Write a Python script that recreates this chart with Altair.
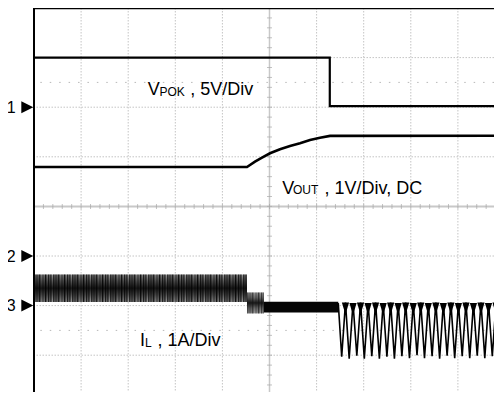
import altair as alt
import pandas as pd

# ---------------- data (oscilloscope screen, in divisions) ----------------
# V_POK (ch1, 5 V/div)
pok_t = [0.0, 6.28, 6.28, 9.94]
pok_v = [3.0, 3.0, 2.02, 2.02]

# V_OUT (ch2, 1 V/div)
vout_t = [0.0, 4.522, 4.692, 4.841, 5.011, 5.223, 5.435, 5.648, 5.860, 6.072, 6.285, 9.94]
vout_v = [0.794, 0.794, 0.901, 0.982, 1.071, 1.151, 1.218, 1.272, 1.339, 1.385, 1.421, 1.423]

# I_L (ch3, 1 A/div) - ripple envelopes
bandA_t = [0.0, 4.522]
bandA_hi = [-1.373, -1.373]
bandA_lo = [-1.927, -1.927]
bandB_t = [4.522, 4.88]
bandB_hi = [-1.734, -1.734]
bandB_lo = [-2.157, -2.157]
bandC_t = [4.88, 6.46]
bandC_hi = [-1.92, -1.92]
bandC_lo = [-2.14, -2.14]

# I_L after the change - triangular ripple (peak / trough vertices)
zz_t = [6.46, 6.533, 6.613, 6.692, 6.773, 6.854, 6.933, 7.013, 7.093, 7.172, 7.252,
        7.333, 7.413, 7.493, 7.572, 7.652, 7.731, 7.811, 7.891, 7.972, 8.052, 8.132,
        8.211, 8.291, 8.371, 8.452, 8.532, 8.612, 8.691, 8.771, 8.851, 8.932, 9.011,
        9.091, 9.171, 9.251, 9.330, 9.410, 9.490, 9.571, 9.650, 9.730, 9.810, 9.890, 9.970]
zz_v = [-1.95, -3.03, -1.94, -3.07, -1.95, -3.01, -1.94, -3.07, -1.95, -3.02, -1.94,
        -3.07, -1.95, -3.03, -1.94, -3.07, -1.95, -3.02, -1.94, -3.06, -1.95, -3.00,
        -1.94, -3.06, -1.95, -3.02, -1.94, -3.07, -1.95, -3.01, -1.94, -3.06, -1.95,
        -3.02, -1.94, -3.06, -1.95, -3.01, -1.94, -3.06, -1.95, -3.02, -1.94, -3.06, -1.95]

# screen grid
grid_x = [1, 2, 3, 4, 6, 7, 8, 9]
grid_y = [-3, -2, -1, 1, 2, 3]
center_x = [5]
center_y = [0]
half_rows = [2.5, -2.5]
minor_x = [round(0.2 * i, 1) for i in range(50)]
minor_y = [round(-3.6 + 0.2 * i, 1) for i in range(39)]

# channel markers
mk_text = ["1", "2", "3"]
mk_level = [2.0, -1.0, -2.0]

# trace labels
lbl_text = ["V", "POK", ", 5V/Div", "V", "OUT", ", 1V/Div, DC", "I", "L", ", 1A/Div"]
lbl_x = [2.414, 2.662, 3.316, 5.272, 5.499, 6.167, 2.25, 2.357, 2.622]
lbl_y = [2.246, 2.226, 2.246, 0.260, 0.240, 0.260, -2.815, -2.835, -2.815]
lbl_size = [18, 12, 18, 18, 12, 18, 18, 12, 18]

# ---------------- chart ----------------
W, H = 460, 384
PX_X, PX_Y = 47.1, 49.6
XS = alt.Scale(domain=[0, W / PX_X], nice=False, zero=False)
YS = alt.Scale(domain=[4.0 - H / PX_Y, 4.0], nice=False, zero=False)
FONT = "Liberation Sans"
STRIPES = [0.8, 0.7, 1.1, 0.5, 0.6, 0.9, 1.3, 0.6, 0.7, 0.8, 0.5, 1.0]


def X(f="t"):
    return alt.X(f"{f}:Q", scale=XS, axis=None)


def Y(f="v"):
    return alt.Y(f"{f}:Q", scale=YS, axis=None)


gx = pd.DataFrame({"t": grid_x})
gy = pd.DataFrame({"v": grid_y})
grid = (
    alt.Chart(gx).mark_rule(color="#c4c4c4", strokeWidth=1, strokeDash=[1.5, 1.5]).encode(x=X())
    + alt.Chart(gy).mark_rule(color="#c4c4c4", strokeWidth=1, strokeDash=[1.5, 1.5]).encode(y=Y())
)
half = alt.Chart(pd.DataFrame({"v": half_rows})).mark_rule(
    color="#b8b8b8", strokeWidth=1, strokeDash=[1.5, 7.92]
).encode(y=Y())
cx = alt.Chart(pd.DataFrame({"t": center_x})).mark_rule(color="#c8c8c8", strokeWidth=1.5).encode(x=X())
cy = alt.Chart(pd.DataFrame({"v": center_y})).mark_rule(color="#c8c8c8", strokeWidth=2).encode(y=Y())
tx = alt.Chart(pd.DataFrame({"t": minor_x, "v": [0] * len(minor_x)})).mark_tick(
    orient="vertical", size=5, thickness=1, color="#a8a8a8"
).encode(x=X(), y=Y())
ty = alt.Chart(pd.DataFrame({"t": [5] * len(minor_y), "v": minor_y})).mark_tick(
    orient="horizontal", size=5, thickness=1, color="#a8a8a8"
).encode(x=X(), y=Y())

border_l = alt.Chart(pd.DataFrame({"t": [0]})).mark_rule(color="black", strokeWidth=2).encode(x=X())
border_t = alt.Chart(pd.DataFrame({"v": [4.0]})).mark_rule(color="black", strokeWidth=2.5).encode(y=Y())


def grad(edge, mid):
    return alt.Gradient(
        gradient="linear",
        stops=[
            alt.GradientStop(color=edge, offset=0),
            alt.GradientStop(color=mid, offset=0.25),
            alt.GradientStop(color="#1a1a1a", offset=0.5),
            alt.GradientStop(color=mid, offset=0.75),
            alt.GradientStop(color=edge, offset=1),
        ],
        x1=0, x2=0, y1=0, y2=1,
    )


def band(ts, his, los, fill, stripe_color, stripe_opacity):
    df = pd.DataFrame({"t": ts, "hi": his, "lo": los})
    area = alt.Chart(df).mark_area(color=fill, clip=True).encode(
        x=X(), y=Y("hi"), y2="lo:Q"
    )
    seg = pd.DataFrame({
        "t0": [ts[0]], "t1": [ts[-1]],
        "mid": [(his[0] + los[0]) / 2],
    })
    width_px = (his[0] - los[0]) * PX_Y
    stripes = alt.Chart(seg).mark_rule(
        color=stripe_color, strokeWidth=width_px, strokeDash=STRIPES,
        opacity=stripe_opacity, clip=True,
    ).encode(x=X("t0"), x2="t1:Q", y=Y("mid"))
    return area + stripes


bandA = band(bandA_t, bandA_hi, bandA_lo, grad("#9a9a9a", "#555555"), "#000000", 0.85)
bandB = band(bandB_t, bandB_hi, bandB_lo, grad("#b0b0b0", "#777777"), "#111111", 0.7)
bandC = alt.Chart(pd.DataFrame({"t": bandC_t, "hi": bandC_hi, "lo": bandC_lo})).mark_area(
    color="#050505", clip=True
).encode(x=X(), y=Y("hi"), y2="lo:Q")

zz_df = pd.DataFrame({"t": zz_t, "v": zz_v})
tops_df = zz_df[(zz_df["v"] > -2.5) & (zz_df["t"] > 6.5)]
zz = alt.Chart(zz_df).mark_line(color="black", strokeWidth=1.6, clip=True).encode(
    x=X(), y=Y(), order="t:Q"
)
zz_tops = alt.Chart(tops_df).mark_point(
    shape="M-0.6,0L0.6,0L0,2Z", size=144, filled=True, color="black", opacity=1,
    strokeWidth=0, clip=True
).encode(x=X(), y=Y())

pok = alt.Chart(pd.DataFrame({"t": pok_t, "v": pok_v, "o": list(range(len(pok_t)))})).mark_line(
    color="black", strokeWidth=2.2, clip=True
).encode(x=X(), y=Y(), order="o:Q")
vout = alt.Chart(pd.DataFrame({"t": vout_t, "v": vout_v})).mark_line(
    color="black", strokeWidth=2.6, clip=True
).encode(x=X(), y=Y(), order="t:Q")

mk_df = pd.DataFrame({"txt": mk_text, "v": mk_level})
mk_num = alt.Chart(mk_df).mark_text(
    font=FONT, fontSize=16, align="left", baseline="alphabetic", dy=5.7, color="black"
).encode(x=alt.value(-27.2), y=Y(), text="txt:N")
mk_tri = alt.Chart(mk_df).mark_point(
    shape="M-1,-1L1,0L-1,1Z", size=144, filled=True, color="black", opacity=1
).encode(x=alt.value(-6.7), y=Y())

lbl = alt.Chart(pd.DataFrame({"txt": lbl_text, "t": lbl_x, "v": lbl_y, "s": lbl_size})).mark_text(
    font=FONT, align="left", baseline="alphabetic", color="black"
).encode(x=X(), y=Y(), text="txt:N", size=alt.Size("s:Q", scale=None, legend=None))

chart = alt.layer(
    grid, half, cx, cy, tx, ty,
    bandA, bandB, bandC, zz, zz_tops, pok, vout,
    border_l, border_t, mk_num, mk_tri, lbl,
).properties(
    width=W,
    height=H,
    padding={"left": 26, "top": 0, "right": 0, "bottom": 0},
    autosize=alt.AutoSizeParams(type="none"),
    background="white",
).configure_view(stroke=None)

chart.save("out.html", embed_options={"renderer": "svg", "actions": False})
